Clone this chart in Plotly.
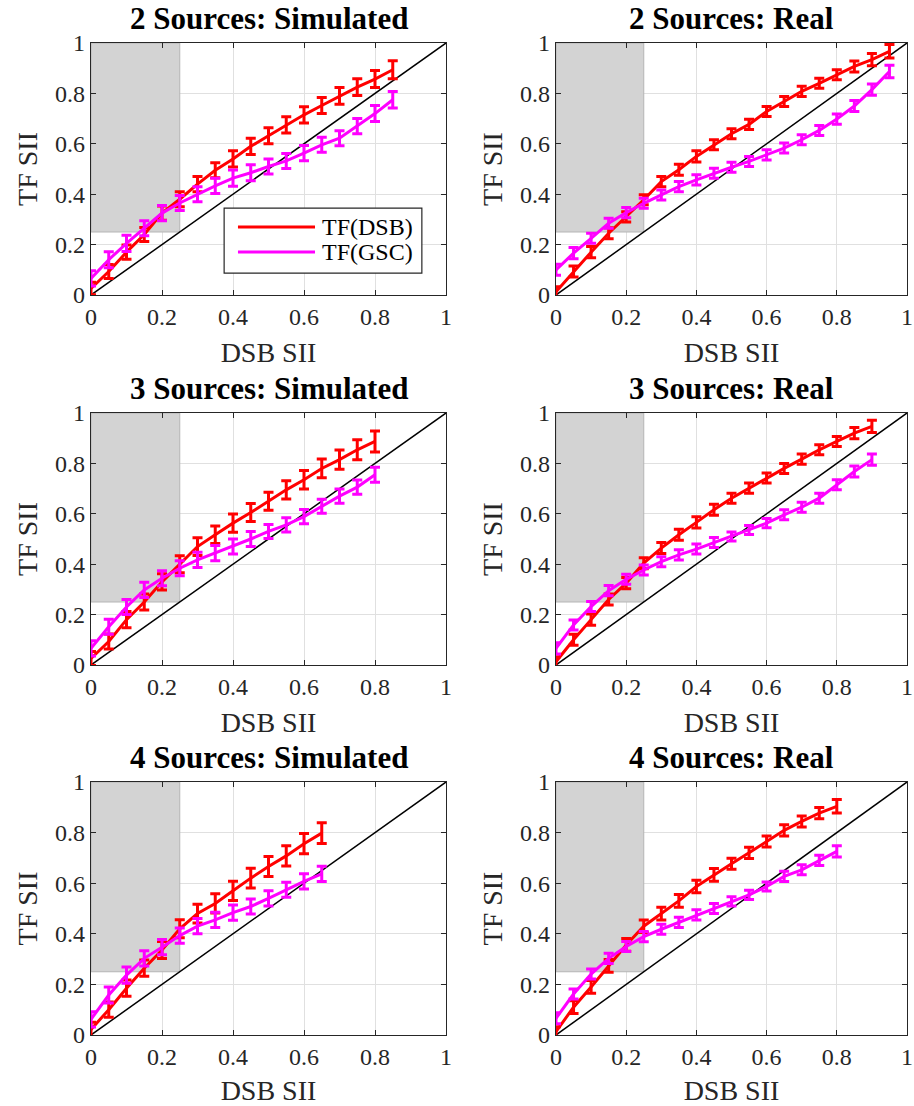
import plotly.graph_objects as go

W, H = 914, 1106

# ---------------- data ----------------
dsb_sii = [0.0, 0.05, 0.1, 0.15, 0.2, 0.25, 0.3, 0.35, 0.4, 0.45,
           0.5, 0.55, 0.6, 0.65, 0.7, 0.75, 0.8, 0.85, 0.9, 0.95]

titles = ["2 Sources: Simulated", "2 Sources: Real",
          "3 Sources: Simulated", "3 Sources: Real",
          "4 Sources: Simulated", "4 Sources: Real"]

series_names = ["TF(DSB)", "TF(GSC)"]
tick_vals = [0, 0.2, 0.4, 0.6, 0.8, 1]
tick_text = ["0", "0.2", "0.4", "0.6", "0.8", "1"]
diag = [0, 1]

# 2 sources simulated
dsb_2sim = [0.026, 0.093, 0.17, 0.24, 0.325, 0.38, 0.44, 0.495, 0.54, 0.59,
            0.632, 0.675, 0.715, 0.752, 0.79, 0.825, 0.857, 0.894]
dsb_2sim_err = [0.025, 0.028, 0.028, 0.028, 0.028, 0.03, 0.03, 0.03, 0.032, 0.032,
                0.032, 0.032, 0.032, 0.032, 0.033, 0.033, 0.034, 0.036]
gsc_2sim = [0.066, 0.14, 0.205, 0.265, 0.325, 0.365, 0.40, 0.433, 0.464, 0.485,
            0.51, 0.532, 0.563, 0.596, 0.622, 0.67, 0.72, 0.775]
gsc_2sim_err = [0.03, 0.032, 0.032, 0.03, 0.03, 0.03, 0.03, 0.03, 0.032, 0.032,
                0.03, 0.03, 0.03, 0.03, 0.03, 0.03, 0.032, 0.033]

# 2 sources real
dsb_2real = [0.013, 0.093, 0.17, 0.245, 0.31, 0.378, 0.45, 0.497, 0.55, 0.596,
             0.64, 0.677, 0.728, 0.768, 0.808, 0.84, 0.874, 0.907, 0.934, 0.967]
dsb_2real_err = [0.02, 0.022, 0.022, 0.022, 0.02, 0.02, 0.02, 0.022, 0.022, 0.02,
                 0.02, 0.02, 0.02, 0.02, 0.02, 0.02, 0.02, 0.022, 0.024, 0.027]
gsc_2real = [0.10, 0.166, 0.225, 0.285, 0.327, 0.364, 0.397, 0.43, 0.457, 0.483,
             0.507, 0.53, 0.556, 0.583, 0.616, 0.653, 0.698, 0.75, 0.815, 0.887]
gsc_2real_err = [0.022, 0.022, 0.02, 0.02, 0.02, 0.02, 0.02, 0.02, 0.02, 0.02,
                 0.02, 0.02, 0.02, 0.02, 0.02, 0.02, 0.02, 0.022, 0.022, 0.025]

# 3 sources simulated
dsb_3sim = [0.026, 0.093, 0.18, 0.25, 0.33, 0.40, 0.47, 0.517, 0.563, 0.605,
            0.65, 0.695, 0.735, 0.78, 0.815, 0.854, 0.887]
dsb_3sim_err = [0.028, 0.03, 0.032, 0.032, 0.032, 0.034, 0.035, 0.035, 0.036, 0.036,
                0.036, 0.036, 0.037, 0.037, 0.038, 0.04, 0.042]
gsc_3sim = [0.066, 0.152, 0.23, 0.298, 0.344, 0.384, 0.417, 0.444, 0.47, 0.50,
            0.53, 0.556, 0.589, 0.63, 0.67, 0.706, 0.755]
gsc_3sim_err = [0.03, 0.03, 0.03, 0.03, 0.03, 0.03, 0.03, 0.03, 0.03, 0.03,
                0.028, 0.028, 0.028, 0.028, 0.028, 0.028, 0.03]

# 3 sources real
dsb_3real = [0.013, 0.10, 0.18, 0.26, 0.325, 0.404, 0.464, 0.517, 0.566, 0.616,
             0.662, 0.702, 0.742, 0.78, 0.817, 0.854, 0.887, 0.92, 0.947]
dsb_3real_err = [0.02, 0.022, 0.022, 0.022, 0.022, 0.022, 0.022, 0.022, 0.022, 0.022,
                 0.02, 0.02, 0.02, 0.02, 0.02, 0.02, 0.02, 0.022, 0.024]
gsc_3real = [0.066, 0.159, 0.232, 0.295, 0.34, 0.377, 0.41, 0.437, 0.46, 0.486,
             0.51, 0.536, 0.563, 0.596, 0.626, 0.662, 0.715, 0.768, 0.815]
gsc_3real_err = [0.022, 0.02, 0.02, 0.02, 0.02, 0.02, 0.02, 0.02, 0.02, 0.02,
                 0.018, 0.018, 0.018, 0.02, 0.02, 0.02, 0.02, 0.022, 0.022]

# 4 sources simulated
dsb_4sim = [0.022, 0.10, 0.185, 0.264, 0.336, 0.42, 0.48, 0.52, 0.57, 0.62,
            0.666, 0.708, 0.756, 0.798]
dsb_4sim_err = [0.028, 0.03, 0.032, 0.032, 0.034, 0.036, 0.037, 0.038, 0.038, 0.039,
                0.04, 0.04, 0.04, 0.041]
gsc_4sim = [0.062, 0.158, 0.237, 0.303, 0.347, 0.393, 0.43, 0.455, 0.484, 0.508,
            0.54, 0.574, 0.607, 0.637]
gsc_4sim_err = [0.03, 0.032, 0.032, 0.03, 0.03, 0.03, 0.03, 0.03, 0.03, 0.03,
                0.03, 0.03, 0.03, 0.03]

# 4 sources real
dsb_4real = [0.013, 0.11, 0.19, 0.273, 0.356, 0.43, 0.48, 0.53, 0.587, 0.633,
             0.677, 0.72, 0.765, 0.809, 0.844, 0.877, 0.904]
dsb_4real_err = [0.02, 0.025, 0.025, 0.025, 0.025, 0.025, 0.025, 0.025, 0.025, 0.025,
                 0.022, 0.022, 0.022, 0.022, 0.022, 0.022, 0.027]
gsc_4real = [0.066, 0.162, 0.241, 0.303, 0.35, 0.389, 0.418, 0.445, 0.475, 0.50,
             0.528, 0.554, 0.587, 0.627, 0.653, 0.69, 0.726]
gsc_4real_err = [0.022, 0.02, 0.02, 0.02, 0.02, 0.02, 0.02, 0.02, 0.02, 0.02,
                 0.018, 0.018, 0.018, 0.02, 0.02, 0.02, 0.022]

panels = [
    (dsb_2sim, dsb_2sim_err, gsc_2sim, gsc_2sim_err),
    (dsb_2real, dsb_2real_err, gsc_2real, gsc_2real_err),
    (dsb_3sim, dsb_3sim_err, gsc_3sim, gsc_3sim_err),
    (dsb_3real, dsb_3real_err, gsc_3real, gsc_3real_err),
    (dsb_4sim, dsb_4sim_err, gsc_4sim, gsc_4sim_err),
    (dsb_4real, dsb_4real_err, gsc_4real, gsc_4real_err),
]

# ---------------- layout geometry (pixels) ----------------
col_px = [(91, 446), (556, 907)]
row_px = [(43, 295), (413, 665), (782, 1035)]
title_px = [18, 388, 757]

RED = "#ff0000"
MAG = "#ff00ff"
AX = "#262626"
FONT = "Liberation Serif"

fig = go.Figure()
annotations = []
shapes = []
layout = dict(
    width=W, height=H,
    margin=dict(l=0, r=0, t=0, b=0, autoexpand=False),
    paper_bgcolor="white", plot_bgcolor="white",
    showlegend=False,
    font=dict(family=FONT, color=AX),
)

for i, (dsb, dsb_e, gsc, gsc_e) in enumerate(panels):
    r, c = divmod(i, 2)
    n = i + 1
    xa = "x" if n == 1 else f"x{n}"
    ya = "y" if n == 1 else f"y{n}"
    xk = "xaxis" if n == 1 else f"xaxis{n}"
    yk = "yaxis" if n == 1 else f"yaxis{n}"
    x0p, x1p = col_px[c]
    y0p, y1p = row_px[r]
    xdom = [x0p / W, x1p / W]
    ydom = [1 - y1p / H, 1 - y0p / H]

    common = dict(
        range=[0, 1], tickvals=tick_vals, ticktext=tick_text,
        showgrid=True, gridcolor="#e0e0e0", gridwidth=1, zeroline=False,
        showline=True, linecolor=AX, linewidth=1.2, mirror="ticks",
        ticks="inside", ticklen=5, tickcolor=AX, tickwidth=1.2,
        tickfont=dict(family=FONT, size=24, color=AX),
        fixedrange=True, automargin=False,
    )
    layout[xk] = dict(common, domain=xdom, anchor=ya,
                      title=dict(text="DSB SII", font=dict(family=FONT, size=28, color=AX),
                                 standoff=13))
    layout[yk] = dict(common, domain=ydom, anchor=xa,
                      title=dict(text="TF SII", font=dict(family=FONT, size=28, color=AX),
                                 standoff=9))

    # shaded region
    shapes.append(dict(type="rect", xref=xa, yref=ya, x0=0, x1=0.25, y0=0.25, y1=1,
                       fillcolor="#d3d3d3", line=dict(color="#b5b5b5", width=1),
                       layer="between"))

    xs = dsb_sii[:len(dsb)]
    fig.add_trace(go.Scatter(x=diag, y=diag, mode="lines", xaxis=xa, yaxis=ya,
                             line=dict(color="black", width=1.5), hoverinfo="skip"))
    fig.add_trace(go.Scatter(x=xs, y=dsb, mode="lines", name=series_names[0],
                             xaxis=xa, yaxis=ya, line=dict(color=RED, width=3),
                             error_y=dict(type="data", array=dsb_e, color=RED,
                                          thickness=3, width=5)))
    fig.add_trace(go.Scatter(x=xs, y=gsc, mode="lines", name=series_names[1],
                             xaxis=xa, yaxis=ya, line=dict(color=MAG, width=3),
                             error_y=dict(type="data", array=gsc_e, color=MAG,
                                          thickness=3, width=5)))

    annotations.append(dict(text=f"<b>{titles[i]}</b>", xref="paper", yref="paper",
                            x=(xdom[0] + xdom[1]) / 2, y=1 - title_px[r] / H,
                            xanchor="center", yanchor="middle", showarrow=False,
                            font=dict(family=FONT, size=31, color="black")))

# custom legend in first panel
shapes.append(dict(type="rect", xref="x", yref="y", x0=0.375, x1=0.932, y0=0.087, y1=0.345,
                   fillcolor="white", line=dict(color=AX, width=1.2), layer="above"))
for name, col, yy in [(series_names[0], RED, 0.27), (series_names[1], MAG, 0.171)]:
    shapes.append(dict(type="line", xref="x", yref="y", x0=0.414, x1=0.631, y0=yy, y1=yy,
                       line=dict(color=col, width=3), layer="above"))
    annotations.append(dict(text=name, xref="x", yref="y", x=0.645, y=yy,
                            xanchor="left", yanchor="middle", showarrow=False,
                            font=dict(family=FONT, size=24, color="black")))

layout["shapes"] = shapes
layout["annotations"] = annotations
fig.update_layout(**layout)
fig.write_html(
    "out.html",
    config={"displayModeBar": False},
    post_script="document.body.style.margin='0px';document.body.style.overflow='hidden';",
)
